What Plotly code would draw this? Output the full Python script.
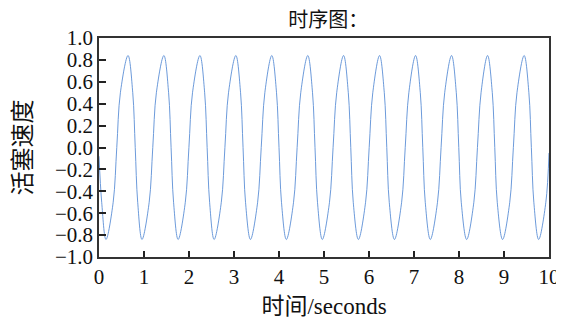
import plotly.graph_objects as go

# time (seconds) and piston velocity
time_s = [
    0.000, 0.060, 0.155,
    0.315, 0.395, 0.475, 0.645, 0.750, 0.805, 0.860, 0.955,
    1.115, 1.195, 1.275, 1.442, 1.547, 1.602, 1.657, 1.758,
    1.918, 1.998, 2.078, 2.243, 2.348, 2.403, 2.458, 2.558,
    2.718, 2.798, 2.878, 3.041, 3.146, 3.201, 3.256, 3.365,
    3.525, 3.605, 3.685, 3.840, 3.945, 4.000, 4.055, 4.163,
    4.323, 4.403, 4.483, 4.640, 4.745, 4.800, 4.855, 4.962,
    5.122, 5.202, 5.282, 5.435, 5.540, 5.595, 5.650, 5.764,
    5.924, 6.004, 6.084, 6.235, 6.340, 6.395, 6.450, 6.565,
    6.725, 6.805, 6.885, 7.035, 7.140, 7.195, 7.250, 7.362,
    7.522, 7.602, 7.682, 7.835, 7.940, 7.995, 8.050, 8.170,
    8.330, 8.410, 8.490, 8.635, 8.740, 8.795, 8.850, 8.968,
    9.128, 9.208, 9.288, 9.448, 9.553, 9.608, 9.663, 9.770,
    9.930, 10.000,
]
velocity = [
    -0.08, -0.50, -0.84,
    -0.50, 0.00, 0.50, 0.84, 0.50, 0.00, -0.50, -0.84,
    -0.50, 0.00, 0.50, 0.84, 0.50, 0.00, -0.50, -0.84,
    -0.50, 0.00, 0.50, 0.84, 0.50, 0.00, -0.50, -0.84,
    -0.50, 0.00, 0.50, 0.84, 0.50, 0.00, -0.50, -0.84,
    -0.50, 0.00, 0.50, 0.84, 0.50, 0.00, -0.50, -0.84,
    -0.50, 0.00, 0.50, 0.84, 0.50, 0.00, -0.50, -0.84,
    -0.50, 0.00, 0.50, 0.84, 0.50, 0.00, -0.50, -0.84,
    -0.50, 0.00, 0.50, 0.84, 0.50, 0.00, -0.50, -0.84,
    -0.50, 0.00, 0.50, 0.84, 0.50, 0.00, -0.50, -0.84,
    -0.50, 0.00, 0.50, 0.84, 0.50, 0.00, -0.50, -0.84,
    -0.50, 0.00, 0.50, 0.84, 0.50, 0.00, -0.50, -0.84,
    -0.50, 0.00, 0.50, 0.84, 0.50, 0.00, -0.50, -0.84,
    -0.50, -0.05,
]

x_ticks = [0, 1, 2, 3, 4, 5, 6, 7, 8, 9, 10]
y_ticks = [-1.0, -0.8, -0.6, -0.4, -0.2, 0.0, 0.2, 0.4, 0.6, 0.8, 1.0]

title_text = "时序图："
x_title = "时间/seconds"
y_title = "活塞速度"

FONT = "Liberation Serif, Noto Sans CJK SC, serif"

fig = go.Figure()
fig.add_trace(go.Scatter(
    x=time_s, y=velocity, mode="lines",
    line=dict(color="#5b8fd6", width=0.9, shape="spline", smoothing=1.0),
    showlegend=False,
))

axis_common = dict(
    showgrid=False, zeroline=False, showline=True, mirror=True,
    linecolor="#333333", linewidth=1.5, automargin=False,
    ticks="inside", tickcolor="#222222", tickwidth=1.5,
    tickfont=dict(family=FONT, size=21, color="#111111"),
)

# page body adds an 8px offset, so the figure is sized to fit the window
fig.update_layout(
    width=556, height=312,
    margin=dict(l=91, r=15, t=30, b=63),
    paper_bgcolor="white", plot_bgcolor="white",
    title=dict(text=title_text, x=0.576, xanchor="center", y=0.962, yanchor="middle",
               font=dict(family=FONT, size=20, color="#111111")),
    xaxis=dict(range=[0, 10], tickvals=x_ticks, ticklen=6,
               title=dict(text=x_title, standoff=10,
                          font=dict(family=FONT, size=23, color="#111111")),
               **axis_common),
    yaxis=dict(range=[-1, 1], tickvals=y_ticks, tickformat=".1f", ticklen=7,
               title=dict(text=y_title, standoff=17,
                          font=dict(family=FONT, size=24, color="#111111")),
               **axis_common),
)

fig.write_html("out.html")
